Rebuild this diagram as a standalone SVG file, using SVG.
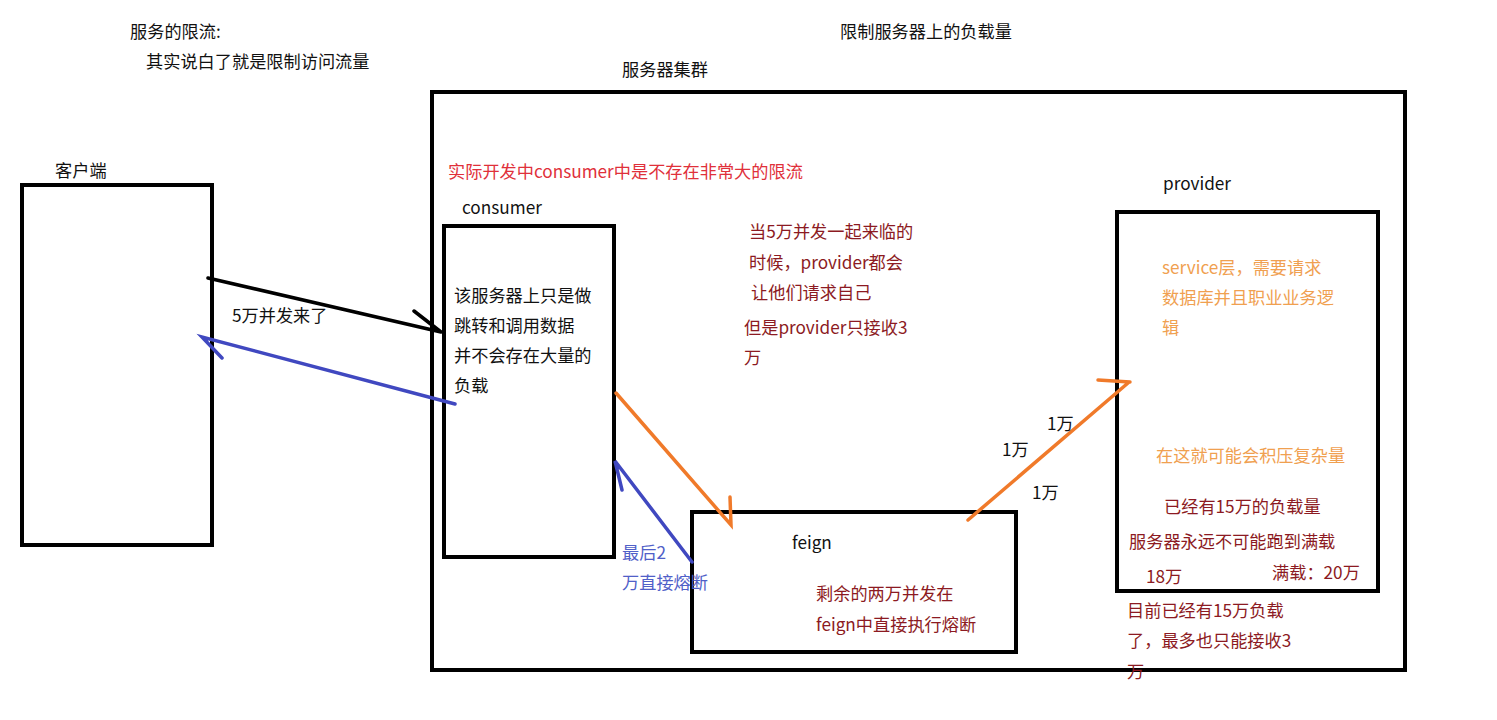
<svg xmlns="http://www.w3.org/2000/svg" width="1497" height="720" viewBox="0 0 1497 720">
<style>
text{font-family:"Microsoft YaHei","Noto Sans CJK SC","Noto Sans",sans-serif;font-size:17.2px;fill:#111}
.box{fill:none;stroke:#000;stroke-width:4}
.red{fill:#e0303a}
.dr{fill:#8c1a22}
.or{fill:#f0a050}
.bl{fill:#5060c8}
.k{stroke:#000;stroke-width:3.5;fill:none;stroke-linecap:round}
.o{stroke:#f07a2a;stroke-width:3.5;fill:none;stroke-linecap:round}
.b{stroke:#4048c0;stroke-width:3.5;fill:none;stroke-linecap:round}
</style>
<rect width="1497" height="720" fill="#fff"/>
<g id="titles">
<text x="130" y="38">服务的限流:</text>
<text x="146" y="68">其实说白了就是限制访问流量</text>
<text x="840" y="38">限制服务器上的负载量</text>
</g>
<g id="cluster">
<rect class="box" x="432" y="92" width="973" height="578"/>
<text x="622" y="76">服务器集群</text>
<text class="red" x="448" y="178">实际开发中consumer中是不存在非常大的限流</text>
</g>
<g id="client">
<rect class="box" x="22" y="185" width="190" height="360"/>
<text x="55" y="177">客户端</text>
</g>
<g id="consumer">
<rect class="box" x="444" y="226" width="170" height="331"/>
<text x="462" y="214">consumer</text>
<text x="454" y="302">该服务器上只是做</text>
<text x="454" y="332">跳转和调用数据</text>
<text x="454" y="362">并不会存在大量的</text>
<text x="454" y="392">负载</text>
</g>
<g id="feign">
<rect class="box" x="692" y="512" width="324" height="140"/>
<text x="792" y="549">feign</text>
<text class="dr" x="816" y="600">剩余的两万并发在</text>
<text class="dr" x="816" y="631">feign中直接执行熔断</text>
</g>
<g id="provider">
<rect class="box" x="1117" y="212" width="261" height="379"/>
<text x="1163" y="190">provider</text>
<text class="or" x="1162" y="274">service层，需要请求</text>
<text class="or" x="1162" y="304">数据库并且职业业务逻</text>
<text class="or" x="1162" y="334">辑</text>
<text class="or" x="1156" y="462">在这就可能会积压复杂量</text>
<text class="dr" x="1164" y="513">已经有15万的负载量</text>
<text class="dr" x="1129" y="548">服务器永远不可能跑到满载</text>
<text class="dr" x="1146" y="583">18万</text>
<text class="dr" x="1272" y="579">满载：20万</text>
<text class="dr" x="1127" y="617">目前已经有15万负载</text>
<text class="dr" x="1127" y="647">了，最多也只能接收3</text>
<text class="dr" x="1127" y="678">万</text>
</g>
<g id="notes">
<text class="dr" x="749" y="238">当5万并发一起来临的</text>
<text class="dr" x="749" y="269">时候，provider都会</text>
<text class="dr" x="751" y="299">让他们请求自己</text>
<text class="dr" x="744" y="334">但是provider只接收3</text>
<text class="dr" x="744" y="364">万</text>
</g>
<g id="connectors">
<path class="k" d="M208 278 L441 332 M414 311 L441 332"/>
<text x="232" y="322">5万并发来了</text>
<path class="b" d="M455 404 L202 337 L222 358"/>
<path class="o" d="M616 393 L731 525 L730 497"/>
<path class="b" d="M692 562 L615 461 L622 490"/>
<text class="bl" x="622" y="559">最后2</text>
<text class="bl" x="622" y="589">万直接熔断</text>
<path class="o" d="M968 520 L1128 383 M1098 380 L1130 382"/>
<text x="1047" y="430">1万</text>
<text x="1002" y="456">1万</text>
<text x="1032" y="499">1万</text>
</g>
</svg>
